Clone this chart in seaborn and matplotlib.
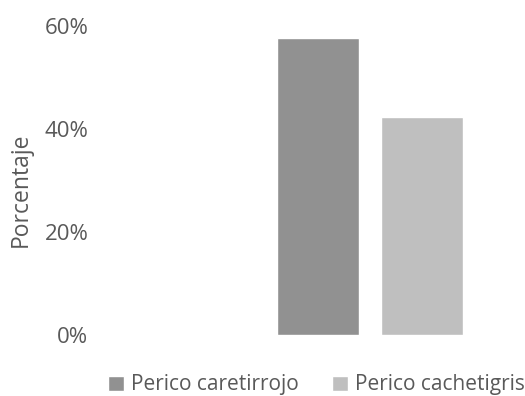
import matplotlib
matplotlib.use("Agg")
import matplotlib.pyplot as plt
import seaborn as sns
import pandas as pd
from matplotlib.ticker import PercentFormatter

# Share of sightings per parakeet species
species = ["Perico caretirrojo", "Perico cachetigris"]
percent = [57.7, 42.3]
colors = ["#919191", "#BFBFBF"]
y_ticks = [0, 20, 40, 60]

df = pd.DataFrame({"Especie": species, "Porcentaje": percent})

sns.set_theme(style="white")
plt.rcParams["font.family"] = ["Open Sans", "DejaVu Sans"]
text_color = "#595959"

fig = plt.figure(figsize=(5.25, 3.96), dpi=100)
ax = fig.add_axes([98 / 525, 1 - 334.7 / 396, (525 - 98) / 525, (334.7 - 26) / 396])

sns.barplot(data=df, x="Especie", y="Porcentaje", hue="Especie",
            palette=colors, width=0.79, saturation=1, ax=ax, legend=True)

ax.set_ylim(0, 60)
ax.set_yticks(y_ticks)
ax.yaxis.set_major_formatter(PercentFormatter(decimals=0))
ax.set_xlim(-2.115, 1.99)
ax.set_xticks([])
ax.set_xlabel("")
ax.set_ylabel("Porcentaje", fontsize=16.5, color=text_color)
ax.yaxis.set_label_coords(-0.152, 0.47)
ax.tick_params(axis="y", labelsize=16, labelcolor=text_color, length=0, pad=7)
for s in ax.spines.values():
    s.set_visible(False)
ax.grid(False)

sns.move_legend(ax, "center", bbox_to_anchor=(0.603, 0.028),
                bbox_transform=fig.transFigure, ncol=2, frameon=False,
                title=None, fontsize=15, handlelength=0.75, handleheight=0.75,
                handletextpad=0.35, columnspacing=1.6, labelcolor=text_color)

fig.savefig("out.png", dpi=100)
